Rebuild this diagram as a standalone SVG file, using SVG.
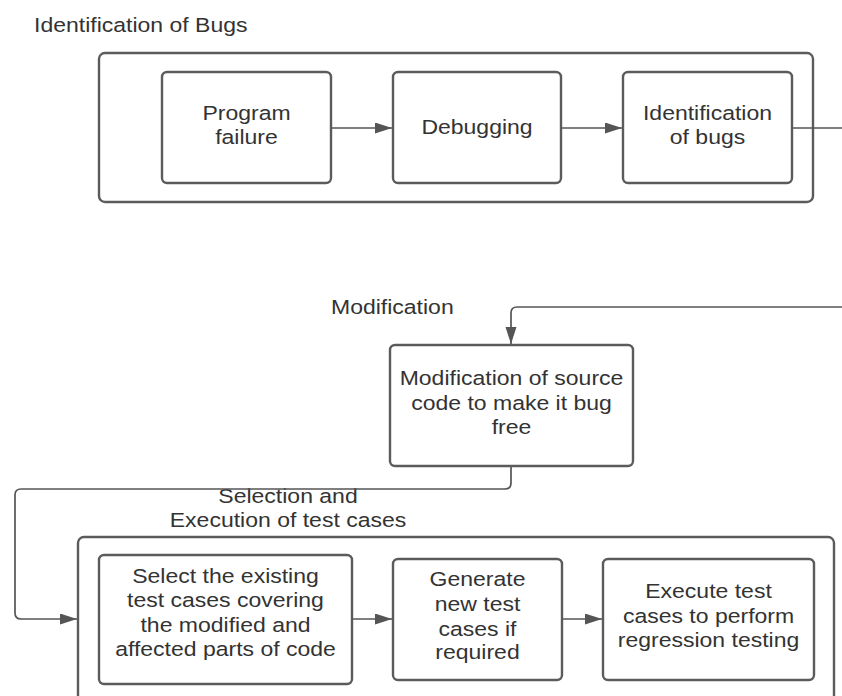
<svg xmlns="http://www.w3.org/2000/svg" width="842" height="696" viewBox="0 0 842 696">
<style>
.bg{fill:#ffffff}
.frame{fill:none;stroke:#5b5b5b;stroke-width:2.4}
.box{fill:#ffffff;stroke:#5b5b5b;stroke-width:2.4}
.conn{fill:none;stroke:#555555;stroke-width:1.7}
.t{font-family:"Liberation Sans",Arial,sans-serif;font-size:19.5px;fill:#333333;text-anchor:middle}
.tl{font-family:"Liberation Sans",Arial,sans-serif;font-size:19.5px;fill:#333333;text-anchor:start}
</style>
<defs>
<marker id="arr" markerUnits="userSpaceOnUse" markerWidth="18" markerHeight="12" refX="17" refY="5.5" orient="auto">
<path d="M0,0 L17,5.5 L0,11 z" fill="#555555"/>
</marker>
</defs>
<rect class="bg" x="0" y="0" width="842" height="696"/>

<g id="group-identification">
<text class="tl" transform="matrix(1.18,0,0,1,34,0)" x="0" y="32">Identification of Bugs</text>
<rect class="frame" x="99" y="53" width="714" height="149" rx="6"/>
</g>

<g id="group-modification-label">
<text class="tl" transform="matrix(1.18,0,0,1,331,0)" x="0" y="314">Modification</text>
</g>

<g id="group-selection">
<text class="t" transform="matrix(1.18,0,0,1,288,0)" x="0" y="503">Selection and</text>
<text class="t" transform="matrix(1.18,0,0,1,288,0)" x="0" y="527">Execution of test cases</text>
<rect class="frame" x="78" y="537" width="756" height="180" rx="6"/>
</g>

<g id="connectors">
<path class="conn" d="M331,128 H392" marker-end="url(#arr)"/>
<path class="conn" d="M561,128 H622" marker-end="url(#arr)"/>
<path class="conn" d="M792,128 H870 V307 H517 Q511,307 511,313 V344" marker-end="url(#arr)"/>
<path class="conn" d="M511,466 V483 Q511,489 505,489 H21 Q15,489 15,495 V613 Q15,619 21,619 H77" marker-end="url(#arr)"/>
<path class="conn" d="M352,619 H392" marker-end="url(#arr)"/>
<path class="conn" d="M562,619 H602" marker-end="url(#arr)"/>
</g>

<g id="node-program-failure">
<rect class="box" x="162" y="72" width="169" height="111" rx="5"/>
<text class="t" transform="matrix(1.18,0,0,1,246.5,0)" x="0" y="120">Program</text>
<text class="t" transform="matrix(1.18,0,0,1,246.5,0)" x="0" y="144">failure</text>
</g>

<g id="node-debugging">
<rect class="box" x="393" y="72" width="168" height="111" rx="5"/>
<text class="t" transform="matrix(1.18,0,0,1,477,0)" x="0" y="134">Debugging</text>
</g>

<g id="node-identification-of-bugs">
<rect class="box" x="623" y="72" width="169" height="111" rx="5"/>
<text class="t" transform="matrix(1.18,0,0,1,707.5,0)" x="0" y="120">Identification</text>
<text class="t" transform="matrix(1.18,0,0,1,707.5,0)" x="0" y="144">of bugs</text>
</g>

<g id="node-modification">
<rect class="box" x="390" y="345" width="243" height="121" rx="5"/>
<text class="t" transform="matrix(1.18,0,0,1,511.5,0)" x="0" y="385">Modification of source</text>
<text class="t" transform="matrix(1.18,0,0,1,511.5,0)" x="0" y="410">code to make it bug</text>
<text class="t" transform="matrix(1.18,0,0,1,511.5,0)" x="0" y="434">free</text>
</g>

<g id="node-select">
<rect class="box" x="99" y="555" width="253" height="129" rx="5"/>
<text class="t" transform="matrix(1.18,0,0,1,225.5,0)" x="0" y="583">Select the existing</text>
<text class="t" transform="matrix(1.18,0,0,1,225.5,0)" x="0" y="607">test cases covering</text>
<text class="t" transform="matrix(1.18,0,0,1,225.5,0)" x="0" y="632">the modified and</text>
<text class="t" transform="matrix(1.18,0,0,1,225.5,0)" x="0" y="656">affected parts of code</text>
</g>

<g id="node-generate">
<rect class="box" x="393" y="559" width="169" height="121" rx="5"/>
<text class="t" transform="matrix(1.18,0,0,1,477.5,0)" x="0" y="586">Generate</text>
<text class="t" transform="matrix(1.18,0,0,1,477.5,0)" x="0" y="611">new test</text>
<text class="t" transform="matrix(1.18,0,0,1,477.5,0)" x="0" y="636">cases if</text>
<text class="t" transform="matrix(1.18,0,0,1,477.5,0)" x="0" y="659">required</text>
</g>

<g id="node-execute">
<rect class="box" x="603" y="559" width="211" height="121" rx="5"/>
<text class="t" transform="matrix(1.18,0,0,1,708.5,0)" x="0" y="598">Execute test</text>
<text class="t" transform="matrix(1.18,0,0,1,708.5,0)" x="0" y="623">cases to perform</text>
<text class="t" transform="matrix(1.18,0,0,1,708.5,0)" x="0" y="647">regression testing</text>
</g>
</svg>
